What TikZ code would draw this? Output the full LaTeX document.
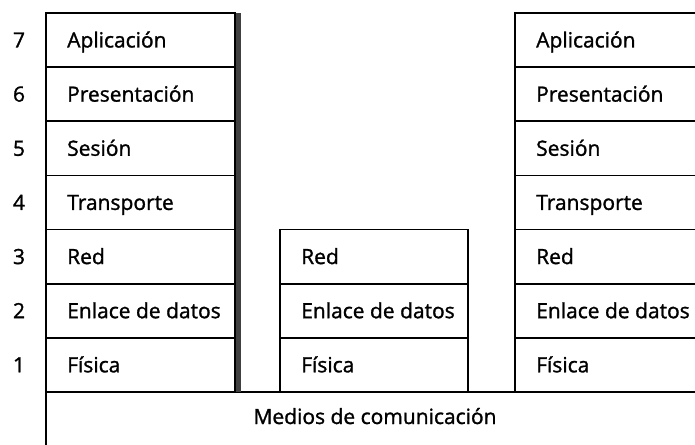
\documentclass[tikz,border=0pt]{standalone}
\usepackage{fontspec}
\setmainfont{Open Sans}
\newfontface\semib{Open Sans}[FakeBold=1.3]
\begin{document}
\begin{tikzpicture}[x=1pt,y=-1pt,
  lbl/.style={font=\semib\fontsize{21}{25}\selectfont},
  cell/.style={draw, line width=1.6pt, anchor=north west, outer sep=0pt,
    minimum height=54.14pt, inner sep=0pt},
  txt/.style={lbl, anchor=base west, inner sep=0pt},
  num/.style={lbl, anchor=base}]
\useasboundingbox (0,0) rectangle (695,444);
% communication medium
\node[cell, minimum width=700pt, minimum height=80pt] (medio) at (46,392) {};
\node[lbl, anchor=base] (mtext) at (375,424) {Medios de comunicación};
% shaded edge of left stack
\fill[black!75] (235,13) rectangle (241,392);
% left and right stacks
\foreach \t [count=\i] in {Aplicación,Presentación,Sesión,Transporte,Red,Enlace de datos,Física}{
  \node[cell, minimum width=189pt] (L\i) at (46,{13+54.14*(\i-1)}) {};
  \node[txt] (LT\i) at (67,{13+54.14*(\i-1)+34.5}) {\t};
  \pgfmathtruncatemacro{\n}{8-\i}
  \node[num] (N\i) at (19,{13+54.14*(\i-1)+34.5}) {\n};
  \node[cell, minimum width=200pt] (R\i) at (515,{13+54.14*(\i-1)}) {};
  \node[txt] (RT\i) at (536,{13+54.14*(\i-1)+34.5}) {\t};
}
% middle stack
\foreach \t [count=\i] in {Red,Enlace de datos,Física}{
  \node[cell, minimum width=188pt] (M\i) at (280,{13+54.14*(\i+3)}) {};
  \node[txt] (MT\i) at (301,{13+54.14*(\i+3)+34.5}) {\t};
}
\end{tikzpicture}
\end{document}
